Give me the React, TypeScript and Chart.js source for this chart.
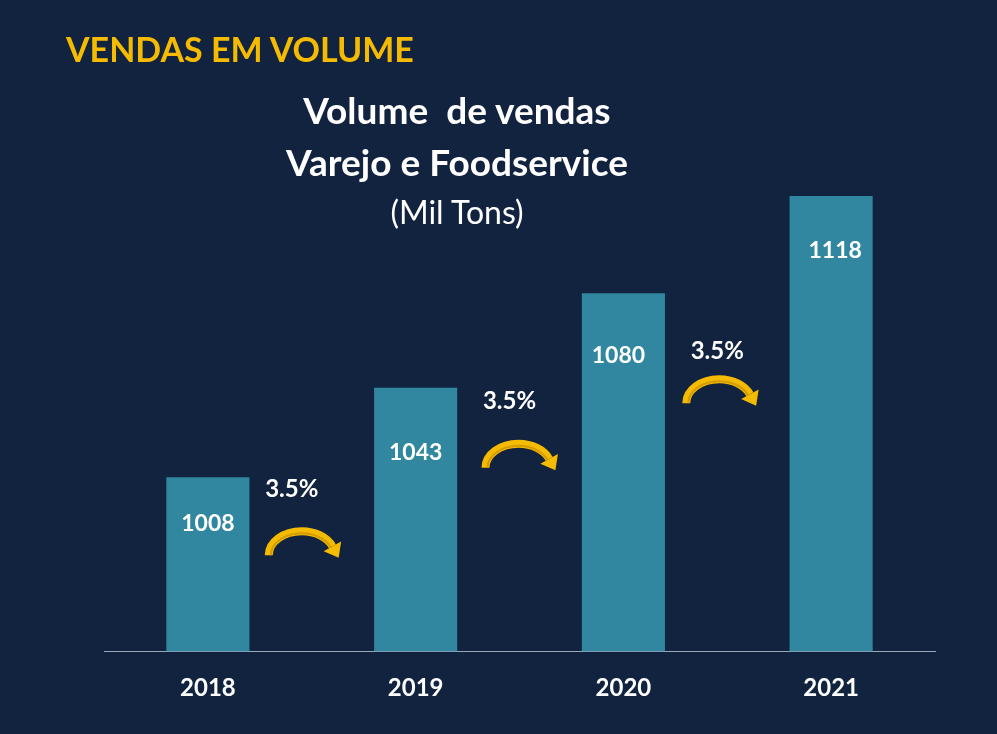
import React, { useEffect, useRef } from "react";
import { Chart, registerables } from "chart.js";

Chart.register(...registerables);

const categories = ["2018", "2019", "2020", "2021"];
const volumes = [1008, 1043, 1080, 1118];
const growthLabels = ["3.5%", "3.5%", "3.5%"];

const BG = "#12233f";
const BAR = "#31879f";
const YELLOW = "#f5bb00";
const FONT = "Lato, 'Open Sans', sans-serif";

// style: placement of value labels inside bars (pixels from bar top / centre)
const valuePlacement = [
  { dx: 0, dy: 46 },
  { dx: 0, dy: 65 },
  { dx: -5, dy: 62 },
  { dx: 4, dy: 55 },
];

// style: per-gap placement of the growth label and arrow (pixels, relative to gap centre / left bar top)
const growthPlacement = [
  { lx: -20, ly: 12, ax: -10, ay: 66 },
  { lx: -10, ly: 13, ax: -1, ay: 67 },
  { lx: -10, ly: 58, ax: -8, ay: 52 },
];

function drawArrow(ctx: CanvasRenderingContext2D, cx: number, cy: number) {
  const rx = 33;
  const ry = 24;
  const end = Math.PI * 2 - 0.38;
  ctx.save();
  ctx.lineCap = "butt";
  ctx.strokeStyle = YELLOW;
  ctx.lineWidth = 8;
  ctx.beginPath();
  ctx.ellipse(cx, cy, rx, ry, 0, Math.PI, end);
  ctx.stroke();
  ctx.strokeStyle = "#d49c00";
  ctx.lineWidth = 2;
  ctx.beginPath();
  ctx.ellipse(cx, cy, rx - 2, ry - 2, 0, Math.PI, end);
  ctx.stroke();
  // arrow head
  const ex = cx + rx * Math.cos(end);
  const ey = cy + ry * Math.sin(end);
  let dx = -rx * Math.sin(end);
  let dy = ry * Math.cos(end);
  const len = Math.hypot(dx, dy);
  dx /= len;
  dy /= len;
  const px = -dy;
  const py = dx;
  ctx.fillStyle = YELLOW;
  ctx.beginPath();
  ctx.moveTo(ex + px * 10, ey + py * 10);
  ctx.lineTo(ex + dx * 13, ey + dy * 13);
  ctx.lineTo(ex - px * 10, ey - py * 10);
  ctx.closePath();
  ctx.fill();
  ctx.restore();
}

const labelsPlugin = {
  id: "labelsPlugin",
  afterDatasetsDraw(chart: any) {
    const ctx = chart.ctx as CanvasRenderingContext2D;
    const meta = chart.getDatasetMeta(0);
    ctx.save();
    ctx.fillStyle = "#ffffff";
    ctx.textAlign = "center";
    ctx.textBaseline = "middle";
    ctx.font = `bold 23px ${FONT}`;
    meta.data.forEach((bar: any, i: number) => {
      const p = valuePlacement[i];
      ctx.fillText(String(volumes[i]), bar.x + p.dx, bar.y + p.dy);
    });
    growthLabels.forEach((txt, i) => {
      const left = meta.data[i];
      const right = meta.data[i + 1];
      const gapC = (left.x + left.width / 2 + right.x - right.width / 2) / 2;
      const p = growthPlacement[i];
      const ly = left.y + p.ly;
      ctx.fillStyle = "#ffffff";
      ctx.font = `bold 24px ${FONT}`;
      ctx.fillText(txt, gapC + p.lx, ly);
      drawArrow(ctx, gapC + p.ax, ly + p.ay);
    });
    ctx.restore();
  },
};

export default function App() {
  const ref = useRef<HTMLCanvasElement>(null);
  useEffect(() => {
    if (!ref.current) return;
    const chart = new Chart(ref.current, {
      type: "bar",
      data: {
        labels: categories,
        datasets: [
          {
            data: volumes,
            backgroundColor: BAR,
            barPercentage: 0.4,
            categoryPercentage: 1,
          },
        ],
      },
      options: {
        animation: false,
        responsive: false,
        maintainAspectRatio: false,
        layout: { padding: { left: 104, right: 62, top: 150, bottom: 8 } },
        plugins: { legend: { display: false }, tooltip: { enabled: false }, title: { display: false } },
        scales: {
          x: {
            grid: { display: false, drawTicks: false },
            border: { display: true, color: "#9aa7b8", width: 1 },
            ticks: { color: "#ffffff", font: { family: FONT, size: 24, weight: "bold" }, padding: 23 },
          },
          y: { display: false, min: 940, max: 1136 },
        },
      },
      plugins: [labelsPlugin],
    });
    return () => chart.destroy();
  }, []);

  const abs: React.CSSProperties = { position: "absolute", whiteSpace: "nowrap", fontFamily: FONT };
  return (
    <div style={{ position: "absolute", left: 0, top: 0, width: 997, height: 734, background: BG, overflow: "hidden" }}>
      <canvas ref={ref} width={997} height={734} style={{ position: "absolute", left: 0, top: 0, width: 997, height: 734 }} />
      <div style={{ ...abs, left: 66, top: 28, fontSize: 34, fontWeight: 700, color: YELLOW, lineHeight: "42px" }}>
        VENDAS EM VOLUME
      </div>
      <div style={{ ...abs, left: 257, width: 400, textAlign: "center", top: 84, fontSize: 37, fontWeight: 700, color: "#fff", lineHeight: "52px" }}>
        Volume&nbsp; de vendas
        <br />
        Varejo e Foodservice
      </div>
      <div style={{ ...abs, left: 257, width: 400, textAlign: "center", top: 194, fontSize: 32, fontWeight: 400, color: "#fff", lineHeight: "36px" }}>
        (Mil Tons)
      </div>
    </div>
  );
}
